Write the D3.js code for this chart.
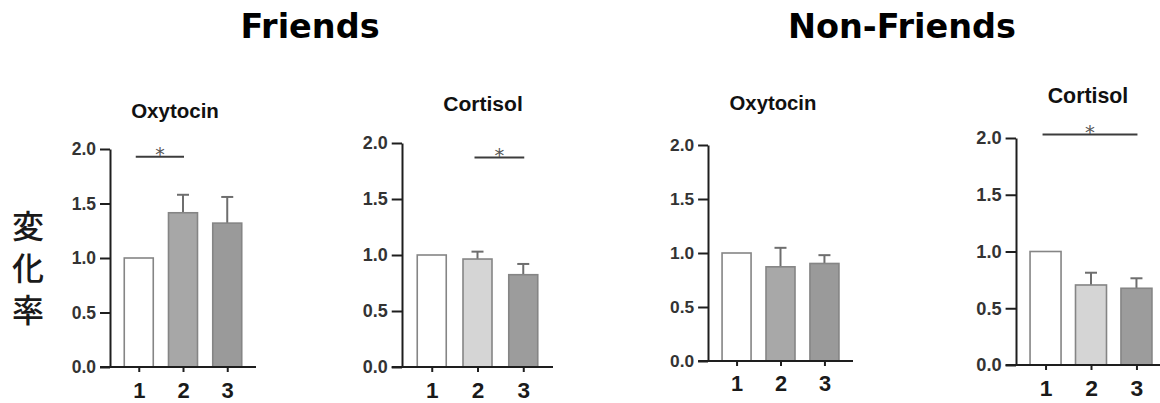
<!DOCTYPE html>
<html>
<head>
<meta charset="utf-8">
<script src="https://cdn.jsdelivr.net/npm/d3@7"></script>
<style>
  body { margin: 0; background: #fff; }
  svg { display: block; font-family: "Liberation Sans", Arial, sans-serif; }
</style>
</head>
<body>
<div id="chart"></div>
<script>
// ---- data ----
const groups = ['1', '2', '3'];
const groupTitles = ['Friends', 'Non-Friends'];
const panelTitles = ['Oxytocin', 'Cortisol', 'Oxytocin', 'Cortisol'];
const yTicks = [0, 0.5, 1.0, 1.5, 2.0];

// mean change ratio per group, one row per panel
const meanValues = [
    [1.0, 1.415, 1.32],
    [1.0, 0.964, 0.824],
    [1.0, 0.872, 0.903],
    [1.0, 0.705, 0.676]
];
// upper error (SEM) per group
const errorValues = [
    [0, 0.165, 0.24],
    [0, 0.066, 0.096],
    [0, 0.176, 0.077],
    [0, 0.108, 0.088]
];
// significance brackets: [from group index, to group index, height]
const sigMarks = [
    [0, 1, 1.93],
    [1, 2, 1.87],
    null,
    [0, 2, 2.03]
];

// ---- layout / styles ----
const width = 1160, height = 403;
const panels = [
    { axisX: 110, y0: 367, y2: 149, len: 146, barW: 29, titleX: 175, titleY: 110,
      fills: ['#ffffff', '#a7a7a7', '#9a9a9a'] },
    { axisX: 402, y0: 367, y2: 143, len: 151, barW: 29, titleX: 483, titleY: 103,
      fills: ['#ffffff', '#d5d5d5', '#9c9c9c'] },
    { axisX: 708, y0: 361, y2: 145, len: 145, barW: 29, titleX: 773, titleY: 103,
      fills: ['#ffffff', '#a8a8a8', '#9a9a9a'] },
    { axisX: 1016, y0: 365, y2: 138, len: 150, barW: 31, titleX: 1088, titleY: 96,
      fills: ['#ffffff', '#d5d5d5', '#9c9c9c'] }
];
const groupTitleX = [310, 902];

const svg = d3.select('#chart').append('svg')
    .attr('width', width)
    .attr('height', height);

// big group titles
svg.selectAll('.group-title')
    .data(groupTitles)
    .join('text')
    .attr('class', 'group-title')
    .attr('x', (d, i) => groupTitleX[i])
    .attr('y', 38)
    .attr('text-anchor', 'middle')
    .style('font-family', '"DejaVu Sans", sans-serif')
    .attr('font-size', '33.5px')
    .attr('font-weight', 'bold')
    .attr('fill', '#000')
    .text(d => d);

// y label, written vertically
svg.append('text')
    .attr('x', 28)
    .attr('y', 273)
    .attr('text-anchor', 'middle')
    .style('writing-mode', 'vertical-rl')
    .style('font-family', '"Noto Sans CJK JP", sans-serif')
    .style('letter-spacing', '10px')
    .attr('font-size', '32px')
    .attr('font-weight', 500)
    .attr('fill', '#1a1a1a')
    .text('変化率');

panels.forEach((p, pi) => {
    const k = (p.y0 - p.y2) / 2 / 109;   // per-panel scale of the source image
    const g = svg.append('g');

    const x = d3.scalePoint()
        .domain(groups)
        .range([p.axisX, p.axisX + p.len])
        .padding(0.65);

    const y = d3.scaleLinear()
        .domain([0, 2])
        .range([p.y0, p.y2]);

    const rows = groups.map((grp, i) => ({
        grp, mean: meanValues[pi][i], err: errorValues[pi][i], fill: p.fills[i]
    }));

    // panel title
    g.append('text')
        .attr('x', p.titleX)
        .attr('y', p.titleY)
        .attr('dominant-baseline', 'central')
        .attr('text-anchor', 'middle')
        .attr('font-size', (20.5 * k) + 'px')
        .attr('font-weight', 'bold')
        .attr('fill', '#111')
        .text(panelTitles[pi]);

    // error bars (upper only)
    const eb = g.selectAll('.err')
        .data(rows.filter(d => d.err > 0))
        .join('g')
        .attr('stroke', '#6e6e6e')
        .attr('stroke-width', 2);
    eb.append('line')
        .attr('x1', d => x(d.grp)).attr('x2', d => x(d.grp))
        .attr('y1', d => y(d.mean)).attr('y2', d => y(d.mean + d.err));
    eb.append('line')
        .attr('x1', d => x(d.grp) - 6).attr('x2', d => x(d.grp) + 6)
        .attr('y1', d => y(d.mean + d.err)).attr('y2', d => y(d.mean + d.err));

    // bars
    g.selectAll('.bar')
        .data(rows)
        .join('rect')
        .attr('class', 'bar')
        .attr('x', d => x(d.grp) - p.barW / 2)
        .attr('y', d => y(d.mean))
        .attr('width', p.barW)
        .attr('height', d => y(0) - y(d.mean))
        .attr('fill', d => d.fill)
        .attr('stroke', '#858585')
        .attr('stroke-width', 1.6);

    // y axis
    const yAxisG = g.append('g')
        .attr('transform', `translate(${p.axisX},0)`)
        .call(d3.axisLeft(y)
            .tickValues(yTicks)
            .tickFormat(d3.format('.1f'))
            .tickSize(10 * k)
            .tickSizeOuter(0)
            .tickPadding(4));
    yAxisG.selectAll('path, line')
        .attr('stroke', '#1e1e1e')
        .attr('stroke-width', 2);
    yAxisG.selectAll('text')
        .attr('font-family', '"Liberation Sans", Arial, sans-serif')
        .attr('font-size', (17.5 * k) + 'px')
        .attr('font-weight', 'bold')
        .attr('fill', '#333');

    // x axis
    const xAxisG = g.append('g')
        .attr('transform', `translate(0,${p.y0})`)
        .call(d3.axisBottom(x)
            .tickSize(5)
            .tickSizeOuter(0)
            .tickPadding(10));
    xAxisG.select('.domain')
        .attr('d', `M${p.axisX - 10 * k},0H${p.axisX + p.len}`);
    xAxisG.selectAll('path, line')
        .attr('stroke', '#1e1e1e')
        .attr('stroke-width', 2);
    xAxisG.selectAll('text')
        .attr('font-family', '"Liberation Sans", Arial, sans-serif')
        .attr('font-size', (22 * k) + 'px')
        .attr('font-weight', 'bold')
        .attr('fill', '#1a1a1a');

    // significance bracket
    const s = sigMarks[pi];
    if (s) {
        const x1 = x(groups[s[0]]) - 3, x2 = x(groups[s[1]]) + 1;
        g.append('line')
            .attr('x1', x1).attr('x2', x2)
            .attr('y1', y(s[2])).attr('y2', y(s[2]))
            .attr('stroke', '#3c3c3c')
            .attr('stroke-width', 2);
        g.append('text')
            .attr('x', (x1 + x2) / 2)
            .attr('y', y(s[2]) + 4)
            .attr('text-anchor', 'middle')
            .style('font-family', '"DejaVu Sans", sans-serif')
            .attr('font-size', (19 * k) + 'px')
            .attr('fill', '#555')
            .text('*');
    }
});
</script>
</body>
</html>
